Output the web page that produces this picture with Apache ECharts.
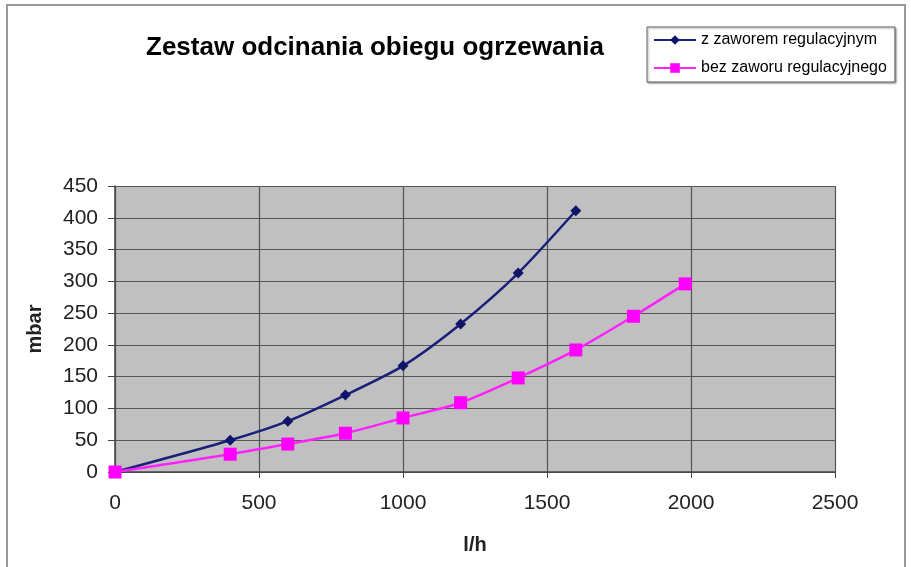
<!DOCTYPE html>
<html>
<head>
<meta charset="utf-8">
<script src="https://cdn.jsdelivr.net/npm/echarts@6/dist/echarts.min.js"></script>
<style>
  html, body { margin: 0; padding: 0; background: #fff; }
  #chart { width: 911px; height: 567px; }
</style>
</head>
<body>
<div id="chart"></div>
<script>
  const titleText = 'Zestaw odcinania obiegu ogrzewania';
  const seriesNames = ['z zaworem regulacyjnym', 'bez zaworu regulacyjnego'];
  const flowWithValve = [0, 400, 600, 800, 1000, 1200, 1400, 1600];
  const pressureWithValve = [0, 50, 80, 121, 167, 233, 313, 411];
  const flowNoValve = [0, 400, 600, 800, 1000, 1200, 1400, 1600, 1800, 1980];
  const pressureNoValve = [0, 28, 44, 61, 85, 109, 148, 192, 245, 296];

  const chart = echarts.init(document.getElementById('chart'));
  const fontFamily = 'Liberation Sans, Arial, sans-serif';

  const pairs = (xs, ys) => xs.map((x, i) => [x, ys[i]]);

  chart.setOption({
    animation: false,
    backgroundColor: '#fff',
    title: {
      text: titleText,
      left: 370,
      top: 30,
      textAlign: 'center',
      textStyle: { fontFamily, fontSize: 26, fontWeight: 'bold', color: '#000' },
    },
    legend: {
      orient: 'vertical',
      left: 647,
      top: 27,
      itemWidth: 42,
      itemHeight: 12,
      itemGap: 12,
      padding: [5, 8, 6, 6],
      backgroundColor: '#fff',
      borderColor: '#666',
      borderWidth: 1,
      shadowColor: 'rgba(0,0,0,0.4)',
      shadowOffsetX: 1,
      shadowOffsetY: 1,
      shadowBlur: 2,
      textStyle: { fontFamily, fontSize: 16, color: '#000' },
      data: seriesNames,
    },
    graphic: [{
      type: 'rect',
      shape: { x: 7, y: 5, width: 898, height: 570 },
      style: { fill: 'none', stroke: '#9a9a9a', lineWidth: 2 },
      silent: true,
    }],
    grid: { left: 115, right: 76, top: 186, bottom: 95 },
    xAxis: {
      type: 'value',
      min: 0,
      max: 2500,
      interval: 500,
      name: 'l/h',
      nameLocation: 'middle',
      nameGap: 63,
      nameTextStyle: { fontFamily, fontSize: 20, fontWeight: 'bold', color: '#222' },
      axisLine: { show: true, lineStyle: { color: '#444', width: 1.5 } },
      axisTick: { show: true, length: 6, lineStyle: { color: '#444' } },
      axisLabel: { fontFamily, fontSize: 21, color: '#222', margin: 21, formatter: (v) => String(v) },
      splitLine: { show: true, lineStyle: { color: '#555', width: 1.2 } },
    },
    yAxis: {
      type: 'value',
      min: 0,
      max: 450,
      interval: 50,
      name: 'mbar',
      nameLocation: 'middle',
      nameGap: 70,
      nameRotate: 90,
      nameTextStyle: { fontFamily, fontSize: 20, fontWeight: 'bold', color: '#222' },
      axisLine: { show: true, lineStyle: { color: '#444', width: 1.5 } },
      axisTick: { show: true, length: 7, lineStyle: { color: '#444' } },
      axisLabel: { fontFamily, fontSize: 21, color: '#222', margin: 17 },
      splitLine: { show: true, lineStyle: { color: '#555', width: 1.2 } },
      splitArea: { show: true, areaStyle: { color: ['#c0c0c0', '#c0c0c0'] } },
    },
    series: [
      {
        name: seriesNames[0],
        type: 'line',
        data: pairs(flowWithValve, pressureWithValve),
        smooth: 0.25,
        symbol: 'diamond',
        symbolSize: 11,
        lineStyle: { color: '#1a1f7a', width: 2.5 },
        itemStyle: { color: '#10156a' },
        z: 3,
      },
      {
        name: seriesNames[1],
        type: 'line',
        data: pairs(flowNoValve, pressureNoValve),
        smooth: 0.25,
        symbol: 'rect',
        symbolSize: 13,
        lineStyle: { color: '#ff22ff', width: 2.5 },
        itemStyle: { color: '#ff00ff' },
        z: 4,
      },
    ],
  });
</script>
</body>
</html>
